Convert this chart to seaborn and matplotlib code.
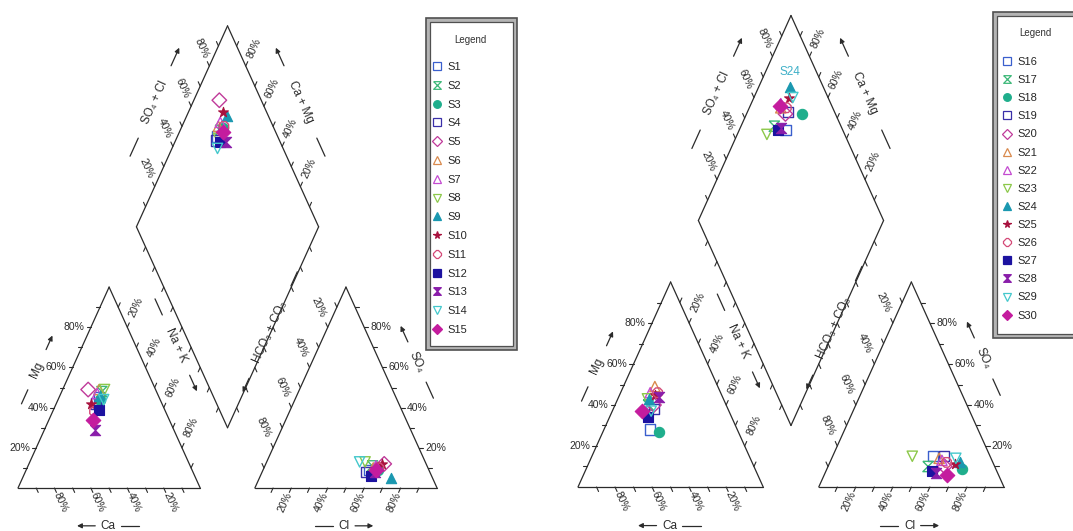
import numpy as np
import pandas as pd
import matplotlib.pyplot as plt
import matplotlib.patches as patches
from matplotlib.lines import Line2D
import seaborn as sns

# ------------------------------------------------------------
# Piper diagrams for two groups of samples (values in % meq/l)
# ------------------------------------------------------------
samples_a = [f"S{i}" for i in range(1, 16)]
samples_b = [f"S{i}" for i in range(16, 31)]

ca_a = [33, 30, 33, 36, 37, 31, 33, 28, 32, 39, 39, 36, 43, 31, 42]
mg_a = [45, 48, 44, 42, 49, 49, 47, 49, 46, 42, 38, 39, 29, 44, 34]
nak_a = [22, 22, 23, 22, 14, 20, 20, 23, 22, 19, 23, 25, 28, 25, 24]
cl_a = [58, 59, 63, 57, 65, 60, 61, 54, 72, 64, 63, 61, 62, 51, 62]
so4_a = [9, 11, 9, 8, 12, 10, 11, 13, 5, 12, 10, 6, 8, 13, 9]
hco3_a = [33, 30, 28, 35, 23, 30, 28, 33, 23, 24, 27, 33, 30, 36, 29]

ca_b = [47, 42, 43, 40, 39, 34, 38, 41, 40, 36, 34, 45, 34, 42, 47]
mg_b = [28, 40, 27, 38, 40, 49, 46, 43, 43, 45, 46, 34, 44, 37, 37]
nak_b = [25, 18, 30, 22, 21, 17, 16, 16, 17, 19, 20, 21, 22, 21, 16]
cl_b = [54, 54, 73, 60, 63, 58, 60, 43, 70, 68, 63, 57, 60, 67, 66]
so4_b = [15, 10, 9, 15, 10, 14, 13, 15, 12, 11, 12, 8, 7, 14, 6]
hco3_b = [31, 36, 18, 25, 27, 28, 27, 42, 18, 21, 25, 35, 33, 19, 28]

tick_pct = [20, 40, 60, 80]

# symbol set (same for both groups, one per legend row)
HOURGLASS = [(-1, 1), (1, 1), (-1, -1), (1, -1), (-1, 1)]
marker_list = ['s', HOURGLASS, 'o', 's', 'D', '^', '^', 'v', '^', '*',
               '8', 's', HOURGLASS, 'v', 'D']
filled_list = [False, False, True, False, False, False, False, False,
               True, True, False, True, True, False, True]
color_list = ['#3a5fcd', '#3cb878', '#1fae8c', '#3a2fa8', '#c03a9a',
              '#d98a4e', '#c44ad0', '#8cc84a', '#1a98b0', '#a8123e',
              '#d44a78', '#1c12a0', '#8a1eaa', '#44c8cc', '#c41c9e']

LINE = '#2b2b2b'
H = np.sqrt(3) / 2
GAP = 0.3
TICK = 0.022

sns.set_theme(style='white')
plt.rcParams['font.family'] = ['Liberation Sans', 'DejaVu Sans']


def build_frame(ca, mg, nak, cl, so4, hco3, names):
    df = pd.DataFrame({'sample': names, 'ca': ca, 'mg': mg, 'nak': nak,
                       'cl': cl, 'so4': so4, 'hco3': hco3})
    cat = df[['ca', 'mg', 'nak']].sum(axis=1)
    an = df[['cl', 'so4', 'hco3']].sum(axis=1)
    fmg, fnak = df.mg / cat, df.nak / cat
    fcl, fso4 = df.cl / an, df.so4 / an
    df['cx'] = fnak + fmg / 2
    df['cy'] = fmg * H
    df['ax'] = 1 + GAP + fcl + fso4 / 2
    df['ay'] = fso4 * H
    camg, clso4 = 1 - fnak, fcl + fso4
    df['dx'] = 1 + GAP / 2 + 0.5 * (clso4 - camg)
    df['dy'] = GAP * H + H * (camg + clso4)
    return df


def edge(ax, p0, p1, tdir, labels=False, rot=0, dist=0.09, horiz=None):
    p0, p1, tdir = np.array(p0), np.array(p1), np.array(tdir)
    ax.plot([p0[0], p1[0]], [p0[1], p1[1]], color=LINE, lw=0.9)
    for k in range(1, 10):
        p = p0 + (p1 - p0) * k / 10
        q = p + tdir * TICK
        ax.plot([p[0], q[0]], [p[1], q[1]], color=LINE, lw=0.8)
        if labels and (k * 10) in tick_pct:
            if horiz:
                lp = p + tdir * 0.035
                ax.text(lp[0], lp[1], f"{k * 10}%", ha=horiz, va='center',
                        fontsize=7.5, color=LINE)
            else:
                lp = p + tdir * dist
                ax.text(lp[0], lp[1], f"{k * 10}%", ha='center', va='center',
                        rotation=rot, transform_rotates_text=True,
                        rotation_mode='anchor', fontsize=7.5, color=LINE)


def axis_title(ax, text, center, direction, gap, seg):
    c, d = np.array(center), np.array(direction, dtype=float)
    ang = np.degrees(np.arctan2(d[1], d[0]))
    rot = ang if -90 < ang <= 90 else ang - 180
    ax.text(c[0], c[1], text, ha='center', va='center', rotation=rot,
            transform_rotates_text=True, rotation_mode='anchor',
            fontsize=8.5, color=LINE)
    a0, a1 = c - d * (gap + seg), c - d * gap
    ax.plot([a0[0], a1[0]], [a0[1], a1[1]], color=LINE, lw=0.9)
    b0, b1 = c + d * gap, c + d * (gap + seg)
    ax.annotate('', xy=b1, xytext=b0,
                arrowprops=dict(arrowstyle='-|>', lw=0.9, color=LINE,
                                mutation_scale=7, shrinkA=0, shrinkB=0))


def draw_piper(ax):
    ox = 1 + GAP
    # cation triangle
    edge(ax, (1, 0), (0, 0), (0.5, -H), True, rot=-60, dist=0.07)
    edge(ax, (0, 0), (0.5, H), (-1, 0), True, horiz='right')
    edge(ax, (0.5, H), (1, 0), (0.5, H), True, rot=60, dist=0.1)
    # anion triangle
    edge(ax, (ox, 0), (ox + 1, 0), (-0.5, -H), True, rot=60, dist=0.07)
    edge(ax, (ox + 1, 0), (ox + 0.5, H), (1, 0), True, horiz='left')
    edge(ax, (ox + 0.5, H), (ox, 0), (-0.5, H), True, rot=-60, dist=0.1)
    # diamond
    B = (1 + GAP / 2, GAP * H)
    L = (0.5 + GAP / 2, H + GAP * H)
    R = (1.5 + GAP / 2, H + GAP * H)
    T = (1 + GAP / 2, 2 * H + GAP * H)
    edge(ax, L, T, (-0.5, H), True, rot=-60, dist=0.09)
    edge(ax, R, T, (0.5, H), True, rot=60, dist=0.09)
    edge(ax, B, L, (-0.5, -H))
    edge(ax, B, R, (0.5, -H))

    axis_title(ax, 'Mg', (0.104, 0.51), (0.5, H), 0.1, 0.07)
    axis_title(ax, 'Ca', (0.494, -0.163), (-1, 0), 0.07, 0.1)
    axis_title(ax, 'Na + K', (0.867, 0.616), (0.5, -H), 0.15, 0.08)
    axis_title(ax, 'HCO\u2083 + CO\u2083', (1.383, 0.672), (-0.5, -H), 0.23, 0.07)
    axis_title(ax, 'Cl', (1.79, -0.163), (1, 0), 0.06, 0.1)
    axis_title(ax, 'SO\u2084', (2.19, 0.543), (-0.5, H), 0.1, 0.08)
    axis_title(ax, 'SO\u2084 + Cl', (0.75, 1.664), (0.5, H), 0.18, 0.09)
    axis_title(ax, 'Ca + Mg', (1.55, 1.664), (-0.5, H), 0.18, 0.09)


def plot_points(ax, df):
    for i, row in df.reset_index(drop=True).iterrows():
        c = color_list[i]
        xs = [row.cx, row.ax, row.dx]
        ys = [row.cy, row.ay, row.dy]
        if filled_list[i]:
            sns.scatterplot(x=xs, y=ys, ax=ax, marker=marker_list[i],
                            color=c, edgecolor=c, s=55, linewidth=0.8,
                            legend=False, zorder=3)
        else:
            sns.scatterplot(x=xs, y=ys, ax=ax, marker=marker_list[i],
                            color=c, facecolor='none', edgecolor=c, s=55,
                            linewidth=1.0, legend=False, zorder=3)


def legend_box(fig, x0, y0, x1, y1, title_x, title_y, handles, labels,
               anchor, spacing):
    W, Hf = 1073, 531
    fig.add_artist(patches.Rectangle((x0 / W, 1 - y1 / Hf), (x1 - x0) / W,
                                     (y1 - y0) / Hf, transform=fig.transFigure,
                                     facecolor='#b4b4b4', edgecolor='#505050',
                                     lw=1.2, zorder=1))
    pad = 4
    fig.add_artist(patches.Rectangle(((x0 + pad) / W, 1 - (y1 - pad) / Hf),
                                     (x1 - x0 - 2 * pad) / W,
                                     (y1 - y0 - 2 * pad) / Hf,
                                     transform=fig.transFigure,
                                     facecolor='white', edgecolor='#505050',
                                     lw=0.9, zorder=2))
    fig.text(title_x / W, 1 - title_y / Hf, 'Legend', ha='center',
             va='center', fontsize=7, color='#333333', zorder=3)
    fig.legend(handles, labels, loc='upper left',
               bbox_to_anchor=(anchor[0] / W, 1 - anchor[1] / Hf),
               frameon=False, fontsize=8, labelspacing=spacing,
               handlelength=0.8, handletextpad=0.5, borderpad=0,
               borderaxespad=0)


def make_handles():
    hs = []
    for m, f, c in zip(marker_list, filled_list, color_list):
        hs.append(Line2D([], [], linestyle='none', marker=m, markersize=5.5,
                         markerfacecolor=c if f else 'none',
                         markeredgecolor=c, markeredgewidth=0.9))
    return hs


df_a = build_frame(ca_a, mg_a, nak_a, cl_a, so4_a, hco3_a, samples_a)
df_b = build_frame(ca_b, mg_b, nak_b, cl_b, so4_b, hco3_b, samples_b)

fig = plt.figure(figsize=(10.73, 5.31), dpi=100, facecolor='white')
ax1 = fig.add_axes([0, 0, 540 / 1073, 1])
ax2 = fig.add_axes([540 / 1073, 0, 533 / 1073, 1])

for ax, df in ((ax1, df_a), (ax2, df_b)):
    draw_piper(ax)
    plot_points(ax, df)
    ax.set_axis_off()

ax1.set_xlim(-0.0988, 2.865)
ax1.set_ylim(-0.1853, 2.1034)
ax2.set_xlim(-0.2052, 2.6728)
ax2.set_ylim(-0.1859, 2.0574)

# highlight label of S24 above its diamond point
s24 = df_b[df_b['sample'] == 'S24'].iloc[0]
ax2.text(s24.dx, s24.dy + 0.065, 'S24', color='#3fb0c8', fontsize=8.5,
         ha='center', va='center')

handles = make_handles()
legend_box(fig, 426, 18, 517, 350, 470, 40, handles, samples_a, (433, 62),
           0.79)
legend_box(fig, 993, 12, 1090, 338, 1035, 33, handles, samples_b, (1003, 57),
           0.73)

fig.savefig('out.png', dpi=100, facecolor='white')
